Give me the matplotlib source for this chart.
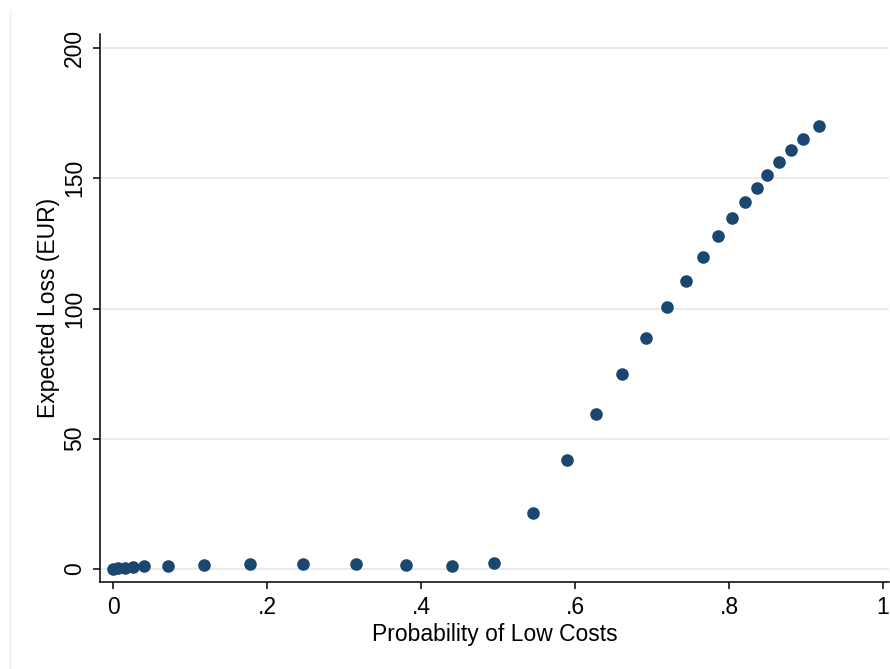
import matplotlib
matplotlib.use("Agg")
import matplotlib.pyplot as plt
from matplotlib.lines import Line2D

plt.rcParams['font.family'] = ['Liberation Sans', 'DejaVu Sans']

prob_low_costs = [0.0, 0.006, 0.016, 0.026, 0.040, 0.071, 0.118, 0.178, 0.247,
                  0.316, 0.381, 0.440, 0.495, 0.546, 0.590, 0.627, 0.661, 0.692,
                  0.719, 0.744, 0.766, 0.786, 0.804, 0.821, 0.836, 0.850, 0.865,
                  0.881, 0.896, 0.917]
expected_loss = [0.0, 0.3, 0.5, 0.8, 1.0, 1.3, 1.6, 1.9, 2.1,
                 2.0, 1.7, 1.0, 2.2, 21.5, 41.8, 59.6, 75.0, 88.5,
                 100.4, 110.7, 119.8, 127.7, 134.9, 140.8, 146.1, 151.2, 156.1,
                 160.8, 165.2, 170.1]
x_ticks = [0, 0.2, 0.4, 0.6, 0.8, 1.0]
x_tick_labels = ['0', '.2', '.4', '.6', '.8', '1']
y_ticks = [0, 50, 100, 150, 200]
y_tick_labels = ['0', '50', '100', '150', '200']

fig = plt.figure(figsize=(8.90, 6.69), dpi=100)
fig.patch.set_facecolor('white')
ax = fig.add_axes([100/890, (669-582)/669, (889-100)/890, (582-34)/669])

ax.scatter(prob_low_costs, expected_loss, s=82, color='#1a476f', zorder=3,
           linewidths=0)

ax.set_xlim(-0.0169, 1.0078)
ax.set_ylim(-5.0, 205.4)
ax.set_xticks(x_ticks)
ax.set_xticklabels(x_tick_labels)
ax.set_yticks(y_ticks)
ax.set_yticklabels(y_tick_labels, rotation=90, va='center')

ax.grid(axis='y', color='#eaeaea', linewidth=1.4, zorder=0)
ax.grid(axis='x', visible=False)
ax.set_axisbelow(True)

for side in ['top', 'right']:
    ax.spines[side].set_visible(False)
for side in ['left', 'bottom']:
    ax.spines[side].set_color('black')
    ax.spines[side].set_linewidth(1.1)

ax.tick_params(axis='both', direction='out', length=5, width=1.1,
               labelsize=16.5, colors='black', pad=5)

ax.set_xlabel('Probability of Low Costs', fontsize=16.5, labelpad=3)
ax.set_ylabel('Expected Loss (EUR)', fontsize=16.5, labelpad=2)

# faint outer frame line on the left
fig.add_artist(Line2D([10/890, 10/890], [0, 1 - 10/669], transform=fig.transFigure,
                      color='#eeeeee', linewidth=1))

fig.savefig('out.png', dpi=100, facecolor='white')
